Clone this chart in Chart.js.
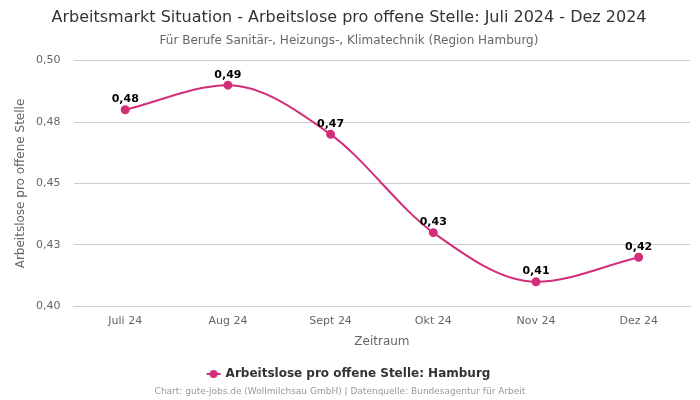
<!DOCTYPE html>
<html>
<head>
<meta charset="utf-8">
<script src="https://cdn.jsdelivr.net/npm/chart.js@4/dist/chart.umd.min.js"></script>
<style>
html,body{margin:0;padding:0;background:#fff;}
#wrap{width:700px;height:400px;position:relative;}
</style>
</head>
<body>
<div id="wrap"><canvas id="c" width="700" height="400"></canvas></div>
<script>
const categories = ['Juli 24', 'Aug 24', 'Sept 24', 'Okt 24', 'Nov 24', 'Dez 24'];
const values = [0.48, 0.49, 0.47, 0.43, 0.41, 0.42];
const yTickLabels = ['0,40', '0,43', '0,45', '0,48', '0,50'];
const seriesName = 'Arbeitslose pro offene Stelle: Hamburg';
const titleText = 'Arbeitsmarkt Situation - Arbeitslose pro offene Stelle: Juli 2024 - Dez 2024';
const subtitleText = 'Für Berufe Sanitär-, Heizungs-, Klimatechnik (Region Hamburg)';
const footerText = 'Chart: gute-jobs.de (Wollmilchsau GmbH) | Datenquelle: Bundesagentur für Arbeit';

const FONT = "'DejaVu Sans', sans-serif";
const COLOR = '#d22e7a';

// legend marker: line with circle
const marker = document.createElement('canvas');
marker.width = 22; marker.height = 10;
(function(){
  const g = marker.getContext('2d');
  g.strokeStyle = COLOR; g.lineWidth = 2;
  g.beginPath(); g.moveTo(4,5); g.lineTo(18,5); g.stroke();
  g.fillStyle = COLOR; g.beginPath(); g.arc(11,5,4,0,Math.PI*2); g.fill();
})();

const dataLabels = {
  id: 'dataLabels',
  afterDatasetsDraw(chart) {
    const ctx = chart.ctx;
    const meta = chart.getDatasetMeta(0);
    ctx.save();
    ctx.font = "bold 11px " + FONT;
    ctx.fillStyle = '#000';
    ctx.textAlign = 'center';
    ctx.textBaseline = 'bottom';
    meta.data.forEach((pt, i) => {
      const v = chart.data.datasets[0].data[i];
      ctx.fillText(v.toFixed(2).replace('.', ','), pt.x, pt.y - 5);
    });
    ctx.restore();
  }
};

const footer = {
  id: 'footer',
  afterDraw(chart) {
    const ctx = chart.ctx;
    ctx.save();
    ctx.font = "9px " + FONT;
    ctx.fillStyle = '#999';
    ctx.textAlign = 'center';
    ctx.textBaseline = 'middle';
    ctx.fillText(footerText, 340, 392);
    ctx.restore();
  }
};

new Chart(document.getElementById('c'), {
  type: 'line',
  data: {
    labels: categories,
    datasets: [{
      label: seriesName,
      data: values,
      borderColor: COLOR,
      backgroundColor: COLOR,
      pointBackgroundColor: COLOR,
      pointBorderColor: COLOR,
      borderWidth: 2,
      pointRadius: 3.5,
      cubicInterpolationMode: 'monotone',
      fill: false
    }]
  },
  options: {
    responsive: false,
    animation: false,
    layout: { padding: { left: 8, right: 10, top: 0, bottom: 10 } },
    plugins: {
      title: {
        display: true, text: titleText, color: '#333',
        font: { family: FONT, size: 16, weight: 'normal' },
        padding: { top: 8, bottom: 4 }
      },
      subtitle: {
        display: true, text: subtitleText, color: '#666',
        font: { family: FONT, size: 12, weight: 'normal' },
        padding: { top: 2, bottom: 13 }
      },
      legend: {
        position: 'bottom',
        labels: {
          usePointStyle: true, pointStyle: marker,
          color: '#333', font: { family: FONT, size: 12, weight: 'bold' },
          padding: 10
        }
      },
      tooltip: { enabled: false }
    },
    scales: {
      x: {
        offset: true,
        grid: { display: false },
        border: { display: true, color: '#ccc' },
        ticks: { color: '#666', font: { family: FONT, size: 11 }, padding: 0 },
        title: { display: true, text: 'Zeitraum', color: '#666', font: { family: FONT, size: 12 }, padding: { top: 7, bottom: 9 } }
      },
      y: {
        min: 0.40, max: 0.50,
        ticks: {
          stepSize: 0.025, color: '#666', font: { family: FONT, size: 11 }, padding: 13.5,
          callback: (v, i) => yTickLabels[i]
        },
        grid: { color: '#ccc', drawTicks: false },
        border: { display: false },
        title: { display: true, text: 'Arbeitslose pro offene Stelle', color: '#666', font: { family: FONT, size: 12 }, padding: { top: 6, bottom: -6 } }
      }
    }
  },
  plugins: [dataLabels, footer]
});
</script>
</body>
</html>
